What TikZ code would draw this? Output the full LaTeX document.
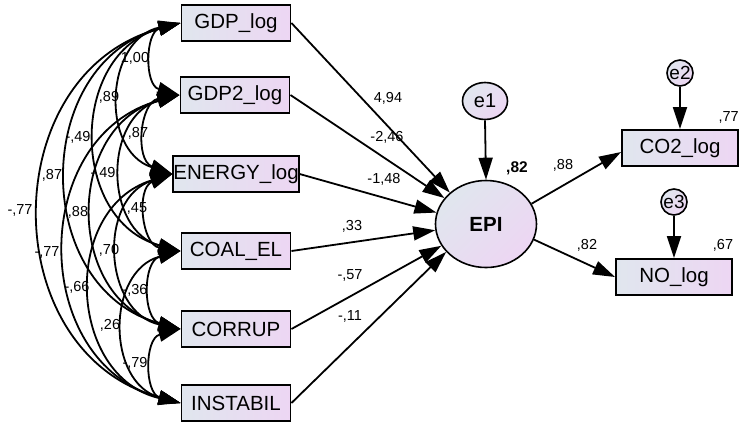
\documentclass[tikz,border=0pt]{standalone}
\usepackage{fontspec}
\setmainfont{Liberation Sans}
\usetikzlibrary{shapes.geometric,arrows.meta}
\definecolor{shA}{RGB}{224,230,238}
\definecolor{shB}{RGB}{237,214,243}
\tikzset{
  obs/.style={rectangle,draw=black,line width=1.9pt,minimum width=109pt,minimum height=36pt,inner sep=0pt,
    left color=shA,right color=shB,font=\fontsize{20.5}{21}\selectfont},
  lat/.style={ellipse,draw=black,line width=1.6pt,inner sep=0pt,
    top color=shA,bottom color=shB,shading angle=45},
  err/.style={lat,font=\fontsize{20}{21}\selectfont},
  lbl/.style={inner sep=0pt,font=\fontsize{14.5}{15}\selectfont},
  tip/.tip={Triangle[length=22pt,width=14pt]},
  path/.style={line width=1.8pt,-tip},
  cov/.style={line width=1.8pt,tip-tip,bend right=75,looseness=1.3},
}
\begin{document}
\begin{tikzpicture}[x=1pt,y=-1pt]
\useasboundingbox (0,0) rectangle (739,424);
% observed exogenous
\node[obs] (gdp) at (236,23) {GDP\_log};
\node[obs] (gdp2) at (235,95) {GDP2\_log};
\node[obs] (energy) at (236,174) {ENERGY\_log};
\node[obs] (coal) at (236,251) {COAL\_EL};
\node[obs] (corr) at (236,329) {CORRUP};
\node[obs] (inst) at (236,403) {INSTABIL};
% latent
\node[lat,minimum width=101pt,minimum height=87pt,font=\bfseries\fontsize{20.5}{21}\selectfont] (epi) at (486,224) {EPI};
\node[err,minimum width=45pt,minimum height=37pt] (e1) at (485,101) {e1};
\node[obs,minimum width=116pt] (co2) at (680,148) {CO2\_log};
\node[obs,minimum width=116pt] (no) at (674,277) {NO\_log};
\node[err,circle,minimum size=26pt,font=\fontsize{19}{20}\selectfont] (e2) at (680,73) {e2};
\node[err,circle,minimum size=26pt,font=\fontsize{19}{20}\selectfont] (e3) at (674,202) {e3};
% paths to EPI
\draw[path] (gdp.east) -- (epi.139);
\draw[path] (gdp2.east) -- (epi.148);
\draw[path] (energy.east) -- (epi.167);
\draw[path] (coal.east) -- (epi.187);
\draw[path] (corr.east) -- (epi.206);
\draw[path] (inst.east) -- (epi.215);
\draw[path] (e1.south) -- (epi.north);
\draw[path] (epi.24) -- ([yshift=-4pt]co2.west);
\draw[path] (epi.-18) -- (no.west);
\draw[path] (e2.south) -- (co2.north);
\draw[path] (e3.south) -- (no.north);
% covariances
\draw[cov] (gdp.west) to (gdp2.west);
\draw[cov] (gdp.west) to (energy.west);
\draw[cov] (gdp.west) to (coal.west);
\draw[cov] (gdp.west) to (corr.west);
\draw[cov] (gdp.west) to (inst.west);
\draw[cov] (gdp2.west) to (energy.west);
\draw[cov] (gdp2.west) to (coal.west);
\draw[cov] (gdp2.west) to (corr.west);
\draw[cov] (gdp2.west) to (inst.west);
\draw[cov] (energy.west) to (coal.west);
\draw[cov] (energy.west) to (corr.west);
\draw[cov] (energy.west) to (inst.west);
\draw[cov] (coal.west) to (corr.west);
\draw[cov] (coal.west) to (inst.west);
\draw[cov] (corr.west) to (inst.west);
% path labels
\node[lbl] (l1) at (388,98) {4,94};
\node[lbl] (l2) at (387,137) {-2,46};
\node[lbl] (l3) at (384,179) {-1,48};
\node[lbl] (l4) at (352,226) {,33};
\node[lbl] (l5) at (350,275) {-,57};
\node[lbl] (l6) at (350,316) {-,11};
\node[lbl,font=\bfseries\fontsize{15.5}{16}\selectfont] (r1) at (517,168) {,82};
\node[lbl] (l7) at (563,165) {,88};
\node[lbl] (l8) at (587,245) {,82};
\node[lbl,anchor=east] (r2) at (739,117) {,77};
\node[lbl] (r3) at (723,245) {,67};
% covariance labels
\node[lbl] (c1) at (135,58) {1,00};
\node[lbl] (c2) at (109,97) {,89};
\node[lbl] (c3) at (78,137) {-,49};
\node[lbl] (c4) at (138,133) {,87};
\node[lbl] (c5) at (52,175) {,87};
\node[lbl] (c6) at (103,173) {-,49};
\node[lbl] (c7) at (20,210) {-,77};
\node[lbl] (c8) at (78,212) {,88};
\node[lbl] (c9) at (137,208) {,45};
\node[lbl] (c10) at (47,252) {-,77};
\node[lbl] (c11) at (109,250) {,70};
\node[lbl] (c12) at (77,287) {-,66};
\node[lbl] (c13) at (135,290) {-,36};
\node[lbl] (c14) at (110,325) {,26};
\node[lbl] (c15) at (135,363) {-,79};
\end{tikzpicture}
\end{document}
